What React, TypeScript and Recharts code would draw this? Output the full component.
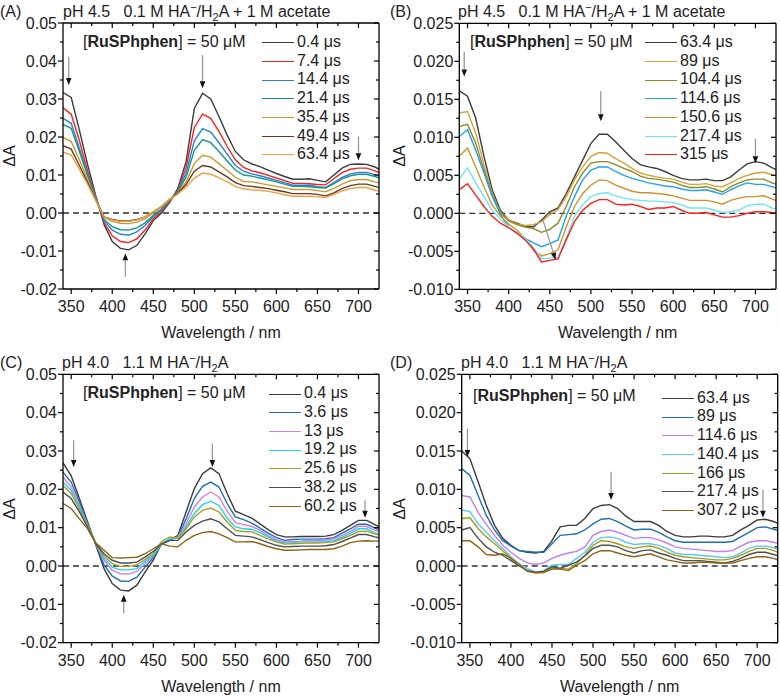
import React from "react";
import { LineChart, Line, XAxis, YAxis, ReferenceLine } from "recharts";

// wavelength grid (nm)
const wavelengths = [
  340, 350, 360, 370, 380, 390, 400, 410, 420, 430, 440, 450, 460, 470, 480, 490, 500, 510, 520, 530,
  540, 550, 560, 570, 580, 590, 600, 610, 620, 630, 640, 650, 660, 670, 680, 690, 700, 710, 720, 730,
];

const xTicks = [350, 375, 400, 425, 450, 475, 500, 525, 550, 575, 600, 625, 650, 675, 700];
const yTicksAC = [-0.02, -0.015, -0.01, -0.005, 0, 0.005, 0.01, 0.015, 0.02, 0.025, 0.03, 0.035, 0.04, 0.045, 0.05];
const yTicksBD = [-0.01, -0.0075, -0.005, -0.0025, 0, 0.0025, 0.005, 0.0075, 0.01, 0.0125, 0.015, 0.0175, 0.02, 0.0225, 0.025];

// (A) pH 4.5, 0.1 M HA-/H2A + 1 M acetate
const labelsA = ["0.4 μs", "7.4 μs", "14.4 μs", "21.4 μs", "35.4 μs", "49.4 μs", "63.4 μs"];
const a_0_4 = [0.0317, 0.0304, 0.0218, 0.0127, 0.0045, -0.003, -0.0075, -0.0093, -0.0097, -0.0085, -0.0055, -0.002, 0.0, 0.0028, 0.0065, 0.0135, 0.0275, 0.0315, 0.03, 0.0254, 0.0205, 0.0162, 0.014, 0.0129, 0.0122, 0.0113, 0.0104, 0.0096, 0.0089, 0.0089, 0.009, 0.0086, 0.0082, 0.01, 0.0118, 0.0128, 0.0129, 0.0128, 0.0121, 0.011];
const a_7_4 = [0.0277, 0.026, 0.019, 0.011, 0.0042, -0.0025, -0.006, -0.0075, -0.0078, -0.0068, -0.0045, -0.0015, 0.0004, 0.003, 0.006, 0.012, 0.0225, 0.026, 0.0249, 0.0215, 0.0175, 0.014, 0.012, 0.0111, 0.0106, 0.0099, 0.0092, 0.0085, 0.0078, 0.0078, 0.0077, 0.0075, 0.0074, 0.009, 0.0106, 0.0115, 0.0118, 0.0118, 0.0111, 0.0102];
const a_14_4 = [0.0249, 0.0236, 0.017, 0.0102, 0.004, -0.002, -0.0045, -0.0056, -0.0058, -0.005, -0.0033, -0.001, 0.0008, 0.0033, 0.0058, 0.0105, 0.019, 0.0222, 0.0213, 0.0185, 0.0155, 0.0125, 0.011, 0.0103, 0.0098, 0.0092, 0.0086, 0.008, 0.0073, 0.0073, 0.0073, 0.0069, 0.0067, 0.008, 0.0094, 0.0103, 0.0107, 0.0107, 0.0101, 0.0094];
const a_21_4 = [0.0233, 0.0223, 0.0162, 0.0098, 0.0038, -0.0017, -0.0036, -0.0044, -0.0045, -0.0039, -0.0026, -0.0006, 0.001, 0.0034, 0.0056, 0.0095, 0.0165, 0.0193, 0.0185, 0.0162, 0.0137, 0.0113, 0.01, 0.0097, 0.0092, 0.0087, 0.0082, 0.0076, 0.007, 0.007, 0.0069, 0.0067, 0.0066, 0.0077, 0.009, 0.0098, 0.0102, 0.0102, 0.0096, 0.0088];
const a_35_4 = [0.0199, 0.0188, 0.014, 0.0087, 0.0036, -0.0012, -0.0022, -0.0027, -0.0028, -0.0024, -0.0015, 0.0, 0.0015, 0.0035, 0.0053, 0.0082, 0.013, 0.0152, 0.0147, 0.013, 0.0112, 0.0094, 0.0083, 0.0082, 0.0078, 0.0074, 0.007, 0.0066, 0.0062, 0.0062, 0.0062, 0.0059, 0.0056, 0.0065, 0.0076, 0.0085, 0.0088, 0.0088, 0.0082, 0.0077];
const a_49_4 = [0.0177, 0.0168, 0.0125, 0.008, 0.0034, -0.001, -0.0017, -0.0021, -0.0021, -0.0017, -0.001, 0.0003, 0.0017, 0.0036, 0.0052, 0.0075, 0.011, 0.0125, 0.0121, 0.0108, 0.0095, 0.008, 0.0072, 0.007, 0.0067, 0.0064, 0.006, 0.0056, 0.0051, 0.0051, 0.0051, 0.0049, 0.0045, 0.0053, 0.0064, 0.0072, 0.0076, 0.0076, 0.007, 0.0065];
const a_63_4 = [0.016, 0.0153, 0.0115, 0.0075, 0.0033, -0.001, -0.0018, -0.0022, -0.0022, -0.0018, -0.001, 0.0003, 0.0017, 0.0036, 0.005, 0.0068, 0.0092, 0.0105, 0.0102, 0.0093, 0.0082, 0.007, 0.0063, 0.0061, 0.006, 0.0057, 0.0053, 0.0048, 0.0044, 0.0044, 0.0044, 0.0043, 0.0041, 0.0049, 0.0058, 0.0064, 0.0067, 0.0067, 0.006, 0.0055];

// (B) same buffer, later delays
const labelsB = ["63.4 μs", "89 μs", "104.4 μs", "114.6 μs", "150.6 μs", "217.4 μs", "315 μs"];
const b_63_4 = [0.0161, 0.0154, 0.0125, 0.0075, 0.0031, 0.0004, -0.0009, -0.0013, -0.0017, -0.0018, -0.0009, 0.0002, 0.0007, 0.0026, 0.0048, 0.007, 0.0092, 0.0104, 0.0104, 0.0094, 0.0083, 0.0072, 0.0064, 0.0061, 0.0059, 0.0055, 0.005, 0.0046, 0.0044, 0.0044, 0.0045, 0.0043, 0.0043, 0.0048, 0.0057, 0.0065, 0.0068, 0.0066, 0.006, 0.0055];
const b_89 = [0.0132, 0.0134, 0.0105, 0.0064, 0.0026, 0.0002, -0.0009, -0.0014, -0.0016, -0.0015, -0.0011, -0.0002, 0.0005, 0.0022, 0.0044, 0.0061, 0.0075, 0.008, 0.0079, 0.0072, 0.0066, 0.0059, 0.0053, 0.005, 0.0048, 0.0046, 0.0045, 0.0041, 0.0038, 0.0038, 0.0039, 0.0036, 0.0035, 0.004, 0.0046, 0.005, 0.0053, 0.0054, 0.0051, 0.0048];
const b_104_4 = [0.0114, 0.0117, 0.0092, 0.0057, 0.0024, 0.0001, -0.001, -0.0015, -0.0018, -0.002, -0.0025, -0.0021, -0.0013, 0.0009, 0.0035, 0.0053, 0.0066, 0.0068, 0.0068, 0.0064, 0.0059, 0.0055, 0.0049, 0.0046, 0.0045, 0.0043, 0.0041, 0.0037, 0.0034, 0.0034, 0.0035, 0.0032, 0.0028, 0.0035, 0.004, 0.0044, 0.0045, 0.0045, 0.004, 0.0037];
const b_114_6 = [0.0101, 0.011, 0.0083, 0.0053, 0.0022, -0.0001, -0.0018, -0.0026, -0.0033, -0.0039, -0.0044, -0.004, -0.0035, -0.0004, 0.0022, 0.0044, 0.0057, 0.0061, 0.0061, 0.0055, 0.005, 0.0046, 0.0043, 0.004, 0.0038, 0.0036, 0.0035, 0.0032, 0.003, 0.003, 0.0031, 0.0028, 0.0025, 0.0031, 0.0036, 0.004, 0.0038, 0.0038, 0.0035, 0.0032];
const b_150_6 = [0.0075, 0.0086, 0.0061, 0.0035, 0.0011, -0.0004, -0.0014, -0.0022, -0.0033, -0.0048, -0.0056, -0.0053, -0.0048, -0.0018, 0.0009, 0.0026, 0.0037, 0.0044, 0.0043, 0.0037, 0.0033, 0.0029, 0.0027, 0.0027, 0.0026, 0.0025, 0.0023, 0.002, 0.0017, 0.0017, 0.0017, 0.0015, 0.0012, 0.0017, 0.002, 0.0022, 0.0022, 0.0023, 0.0019, 0.0015];
const b_217_4 = [0.0045, 0.006, 0.004, 0.0022, 0.0004, -0.0008, -0.0018, -0.0025, -0.0033, -0.0045, -0.006, -0.0059, -0.0058, -0.0033, -0.0004, 0.0011, 0.0022, 0.0026, 0.0027, 0.0023, 0.002, 0.0018, 0.0017, 0.0016, 0.0016, 0.0015, 0.0014, 0.0011, 0.0007, 0.0007, 0.0007, 0.0004, 0.0001, 0.0002, 0.0004, 0.001, 0.0012, 0.0012, 0.0007, 0.0004];
const b_315 = [0.0031, 0.0039, 0.0024, 0.0009, -0.0004, -0.0013, -0.0019, -0.0026, -0.0035, -0.0047, -0.0064, -0.0062, -0.006, -0.0035, -0.0011, 0.0004, 0.0013, 0.0018, 0.0018, 0.0012, 0.0011, 0.0012, 0.0009, 0.0005, 0.0007, 0.0007, 0.0009, 0.0004, 0.0, 0.0, 0.0001, -0.0002, -0.0005, -0.0005, -0.0003, 0.0, 0.0002, 0.0002, 0.0001, -0.0001];

// (C) pH 4.0, 1.1 M HA-/H2A
const labelsC = ["0.4 μs", "3.6 μs", "13 μs", "19.2 μs", "25.6 μs", "38.2 μs", "60.2 μs"];
const c_0_4 = [0.0269, 0.0235, 0.0176, 0.0115, 0.0055, -0.0007, -0.0046, -0.0063, -0.0065, -0.005, -0.0016, 0.0015, 0.0058, 0.0067, 0.008, 0.0141, 0.0202, 0.0241, 0.0256, 0.0241, 0.0189, 0.0143, 0.0134, 0.0125, 0.011, 0.0095, 0.0082, 0.0076, 0.0076, 0.0077, 0.0077, 0.0077, 0.0078, 0.0082, 0.0093, 0.0106, 0.0119, 0.0119, 0.0108, 0.0097];
const c_3_6 = [0.0245, 0.0219, 0.0167, 0.011, 0.0057, 0.0003, -0.0026, -0.0039, -0.004, -0.0029, -0.0003, 0.0022, 0.0058, 0.0067, 0.0077, 0.0123, 0.0176, 0.0208, 0.0219, 0.0206, 0.0163, 0.0128, 0.0121, 0.0112, 0.0099, 0.0086, 0.0074, 0.0067, 0.0069, 0.007, 0.007, 0.007, 0.0071, 0.0074, 0.0086, 0.0097, 0.0109, 0.0109, 0.0099, 0.009];
const c_13 = [0.0232, 0.0206, 0.0158, 0.0107, 0.0058, 0.0015, -0.0011, -0.002, -0.0021, -0.0014, 0.0006, 0.0026, 0.0058, 0.0069, 0.0076, 0.011, 0.0154, 0.018, 0.0193, 0.018, 0.0143, 0.0113, 0.0108, 0.0103, 0.0093, 0.008, 0.0069, 0.0063, 0.0064, 0.0065, 0.0067, 0.0067, 0.0068, 0.0071, 0.008, 0.009, 0.0104, 0.0103, 0.0093, 0.0087];
const c_19_2 = [0.0219, 0.0197, 0.0154, 0.0106, 0.0058, 0.0021, -0.0003, -0.001, -0.001, -0.0007, 0.0012, 0.0028, 0.0058, 0.0071, 0.0074, 0.0102, 0.0137, 0.016, 0.0169, 0.0158, 0.0125, 0.0102, 0.0097, 0.0096, 0.0087, 0.0076, 0.0065, 0.006, 0.0061, 0.0063, 0.0063, 0.0063, 0.0064, 0.0066, 0.0075, 0.0085, 0.0097, 0.0097, 0.0086, 0.008];
const c_25_6 = [0.0209, 0.0189, 0.0148, 0.0104, 0.0058, 0.0026, 0.0006, -0.0001, -0.0001, 0.0003, 0.0017, 0.0032, 0.0064, 0.0076, 0.0073, 0.0097, 0.0128, 0.0145, 0.0151, 0.0141, 0.0115, 0.0093, 0.009, 0.0089, 0.008, 0.0071, 0.0063, 0.0057, 0.0058, 0.0059, 0.006, 0.006, 0.0061, 0.0063, 0.0071, 0.008, 0.009, 0.0091, 0.0084, 0.0078];
const c_38_2 = [0.0193, 0.0176, 0.0141, 0.0101, 0.0058, 0.0032, 0.0015, 0.0008, 0.0008, 0.001, 0.0023, 0.0038, 0.0058, 0.0067, 0.0067, 0.0089, 0.0106, 0.0117, 0.0123, 0.0115, 0.0097, 0.008, 0.0078, 0.0076, 0.0069, 0.0061, 0.0054, 0.005, 0.0051, 0.0052, 0.0052, 0.0052, 0.0053, 0.0056, 0.0064, 0.0073, 0.0082, 0.0082, 0.0076, 0.0071];
const c_60_2 = [0.0163, 0.015, 0.0123, 0.0097, 0.006, 0.0041, 0.0022, 0.0021, 0.0022, 0.0023, 0.0032, 0.0045, 0.0058, 0.0052, 0.005, 0.0067, 0.008, 0.0087, 0.009, 0.0084, 0.0074, 0.0063, 0.0063, 0.0064, 0.0058, 0.0051, 0.0045, 0.0041, 0.0041, 0.0042, 0.0043, 0.0043, 0.0043, 0.0045, 0.0052, 0.0061, 0.0065, 0.0066, 0.0065, 0.0065];

// (D) same buffer, later delays
const labelsD = ["63.4 μs", "89 μs", "114.6 μs", "140.4 μs", "166 μs", "217.4 μs", "307.2 μs"];
const d_63_4 = [0.015, 0.014, 0.011, 0.0079, 0.0053, 0.0036, 0.0027, 0.002, 0.0018, 0.0017, 0.0019, 0.0033, 0.0051, 0.0053, 0.0053, 0.0062, 0.0075, 0.0079, 0.008, 0.0075, 0.0065, 0.0058, 0.0058, 0.0058, 0.0053, 0.0045, 0.004, 0.0038, 0.0038, 0.0039, 0.0039, 0.0038, 0.0038, 0.004, 0.0047, 0.0053, 0.006, 0.0061, 0.0058, 0.0054];
const d_89 = [0.0127, 0.0118, 0.0092, 0.0066, 0.0047, 0.0033, 0.0026, 0.002, 0.0019, 0.0018, 0.0018, 0.0029, 0.004, 0.0041, 0.0042, 0.0047, 0.0055, 0.0061, 0.0062, 0.0058, 0.0052, 0.0047, 0.0048, 0.0048, 0.0044, 0.0038, 0.0033, 0.0031, 0.0031, 0.0031, 0.0031, 0.0031, 0.0031, 0.0032, 0.0038, 0.0044, 0.005, 0.0051, 0.0048, 0.0045];
const d_114_6 = [0.0092, 0.009, 0.007, 0.0054, 0.004, 0.0027, 0.0018, 0.001, 0.0004, 0.0002, 0.0004, 0.001, 0.0014, 0.0017, 0.0019, 0.0025, 0.004, 0.0045, 0.0047, 0.0044, 0.004, 0.0036, 0.0037, 0.0037, 0.0034, 0.003, 0.0025, 0.0023, 0.0022, 0.0021, 0.002, 0.0019, 0.0019, 0.002, 0.0026, 0.0031, 0.0033, 0.0033, 0.0031, 0.0028];
const d_140_4 = [0.0073, 0.0071, 0.0055, 0.0044, 0.0033, 0.0023, 0.0012, 0.0003, -0.0003, -0.0008, -0.0006, 0.0001, 0.0002, 0.0002, 0.001, 0.0018, 0.0031, 0.0037, 0.0038, 0.0036, 0.0031, 0.0028, 0.0029, 0.0029, 0.0027, 0.0023, 0.0017, 0.0015, 0.0015, 0.0014, 0.0013, 0.0012, 0.0011, 0.0012, 0.0017, 0.0023, 0.0026, 0.0026, 0.0024, 0.002];
const d_166 = [0.0062, 0.0063, 0.0049, 0.0038, 0.0029, 0.002, 0.001, 0.0001, -0.0006, -0.0009, -0.0009, -0.0003, -0.0003, -0.0004, 0.0003, 0.0014, 0.0027, 0.0033, 0.0032, 0.0029, 0.0025, 0.0023, 0.0025, 0.0026, 0.0023, 0.0018, 0.0014, 0.0012, 0.0011, 0.001, 0.0009, 0.0008, 0.0008, 0.001, 0.0014, 0.0019, 0.0023, 0.0023, 0.002, 0.0016];
const d_217_4 = [0.0047, 0.005, 0.0036, 0.0025, 0.0018, 0.0014, 0.0007, 0.0, -0.0006, -0.0008, -0.0007, -0.0001, -0.0003, 0.0001, 0.0005, 0.0013, 0.0023, 0.0027, 0.0027, 0.0025, 0.002, 0.0017, 0.002, 0.0021, 0.0017, 0.0014, 0.001, 0.0007, 0.0007, 0.0007, 0.0006, 0.0005, 0.0004, 0.0006, 0.001, 0.0015, 0.0018, 0.0018, 0.0015, 0.0012];
const d_307_2 = [0.0033, 0.0033, 0.0025, 0.0015, 0.0014, 0.0016, 0.001, 0.0002, -0.0007, -0.0009, -0.0008, -0.0004, -0.0004, -0.0006, 0.0001, 0.0007, 0.0016, 0.002, 0.002, 0.0017, 0.0014, 0.0012, 0.0014, 0.0016, 0.0012, 0.0008, 0.0006, 0.0004, 0.0004, 0.0005, 0.0005, 0.0004, 0.0004, 0.0004, 0.0007, 0.001, 0.0012, 0.0012, 0.001, 0.0006];

const FONT = '"Liberation Sans", Arial, sans-serif';
const TXT = "#222";

type Arrow = { x1: number; y1: number; x2: number; y2: number };
type Series = { name: string; color: string; values: number[] };

interface PanelProps {
  tag: string;
  title: React.ReactNode;
  ox: number;
  oy: number;
  w: number;
  h: number;
  plot: { l: number; t: number; r: number; b: number };
  yTicks: number[];
  yStep: number;
  yDigits: number;
  series: Series[];
  arrows: Arrow[];
  ru: { x: number; y: number };
  legend: { x: number; y: number };
  tagY: number;
  titleX: number;
}

const isMajor = (v: number, step: number) => Math.round(v / step) % 2 === 0;

const arrowShape = (p: any) => {
  const { x1, y1, x2, y2 } = p;
  const ang = Math.atan2(y2 - y1, x2 - x1);
  const len = 7;
  const half = 2.8;
  const bx = x2 - len * Math.cos(ang);
  const by = y2 - len * Math.sin(ang);
  const px = -Math.sin(ang) * half;
  const py = Math.cos(ang) * half;
  return (
    <g>
      <line x1={x1} y1={y1} x2={bx} y2={by} stroke="#9a9a9a" strokeWidth={1.3} />
      <polygon points={`${x2},${y2} ${bx + px},${by + py} ${bx - px},${by - py}`} fill="#111" />
    </g>
  );
};

const HAminus = (
  <>
    HA<span style={{ fontSize: 11, position: "relative", top: -6 }}>−</span>/H
    <span style={{ fontSize: 11, position: "relative", top: 4 }}>2</span>A
  </>
);

const Panel = (props: PanelProps) => {
  const { ox, oy, w, h, plot, yTicks, yStep, yDigits, series } = props;
  const rows = wavelengths.map((wl, i) => {
    const row: Record<string, number> = { wl };
    series.forEach((s, k) => {
      row[`s${k}`] = s.values[i];
    });
    return row;
  });

  const bottomTick = (p: any) => {
    const { x, y, payload } = p;
    const major = payload.value % 50 === 0;
    return (
      <g>
        <line x1={x} y1={y} x2={x} y2={y + (major ? 5 : 3)} stroke="#000" strokeWidth={1.2} />
        {major && (
          <text x={x} y={y + 23} textAnchor="middle" fontSize={16} fontFamily={FONT} fill={TXT}>
            {payload.value}
          </text>
        )}
      </g>
    );
  };
  const topTick = (p: any) => {
    const { x, y, payload } = p;
    const major = payload.value % 50 === 0;
    return <line x1={x} y1={y} x2={x} y2={y + (major ? 5 : 3)} stroke="#000" strokeWidth={1.2} />;
  };
  const leftTick = (p: any) => {
    const { x, y, payload } = p;
    const major = isMajor(payload.value, yStep);
    return (
      <g>
        <line x1={x} y1={y} x2={x - (major ? 5 : 3)} y2={y} stroke="#000" strokeWidth={1.2} />
        {major && (
          <text x={x - 6} y={y + 5.6} textAnchor="end" fontSize={16} fontFamily={FONT} fill={TXT}>
            {payload.value.toFixed(yDigits)}
          </text>
        )}
      </g>
    );
  };
  const rightTick = (p: any) => {
    const { x, y, payload } = p;
    const major = isMajor(payload.value, yStep);
    return <line x1={x} y1={y} x2={x - (major ? 5 : 3)} y2={y} stroke="#000" strokeWidth={1.2} />;
  };

  const yDomain = [yTicks[0], yTicks[yTicks.length - 1]];
  const axisLine = { stroke: "#000", strokeWidth: 1.3 };

  return (
    <div style={{ position: "absolute", left: ox, top: oy, width: w, height: h, fontFamily: FONT, color: TXT }}>
      <LineChart
        width={w}
        height={h}
        data={rows}
        margin={{ top: plot.t - 1, right: w - plot.r - 1, bottom: h - plot.b - 40, left: 0 }}
      >
        <XAxis
          xAxisId="b"
          dataKey="wl"
          type="number"
          domain={[340, 725]}
          allowDataOverflow
          ticks={xTicks}
          interval={0}
          height={40}
          tickSize={0}
          tickMargin={0}
          tickLine={false}
          axisLine={axisLine}
          tick={bottomTick}
        />
        <XAxis
          xAxisId="t"
          orientation="top"
          dataKey="wl"
          type="number"
          domain={[340, 725]}
          allowDataOverflow
          ticks={xTicks}
          interval={0}
          height={1}
          tickSize={0}
          tickMargin={0}
          tickLine={false}
          axisLine={axisLine}
          tick={topTick}
        />
        <YAxis
          yAxisId="l"
          type="number"
          domain={yDomain}
          allowDataOverflow
          ticks={yTicks}
          interval={0}
          width={plot.l}
          tickSize={0}
          tickMargin={0}
          tickLine={false}
          axisLine={axisLine}
          tick={leftTick}
        />
        <YAxis
          yAxisId="r"
          orientation="right"
          type="number"
          domain={yDomain}
          allowDataOverflow
          ticks={yTicks}
          interval={0}
          width={1}
          tickSize={0}
          tickMargin={0}
          tickLine={false}
          axisLine={axisLine}
          tick={rightTick}
        />
        <ReferenceLine xAxisId="b" yAxisId="l" y={0} stroke="#333" strokeWidth={1.3} strokeDasharray="6 4" />
        {series.map((s, k) => (
          <Line
            key={s.name}
            xAxisId="b"
            yAxisId="l"
            type="linear"
            dataKey={`s${k}`}
            stroke={s.color}
            strokeWidth={1.4}
            dot={false}
            activeDot={false}
            isAnimationActive={false}
          />
        ))}
        {props.arrows.map((a, i) => (
          <ReferenceLine
            key={`arrow-${i}`}
            xAxisId="b"
            yAxisId="l"
            ifOverflow="visible"
            segment={[
              { x: a.x1, y: a.y1 },
              { x: a.x2, y: a.y2 },
            ]}
            shape={arrowShape}
          />
        ))}
      </LineChart>

      <div style={{ position: "absolute", left: 0, top: props.tagY - 10, fontSize: 16, lineHeight: "20px" }}>{props.tag}</div>
      <div style={{ position: "absolute", left: props.titleX, top: props.tagY - 10, fontSize: 16, lineHeight: "20px", whiteSpace: "pre" }}>
        {props.title}
      </div>
      <div
        style={{
          position: "absolute",
          left: 10 - 20,
          top: (plot.t + plot.b) / 2 - 10,
          width: 40,
          height: 20,
          textAlign: "center",
          fontSize: 16,
          lineHeight: "20px",
          transform: "rotate(-90deg)",
        }}
      >
        ΔA
      </div>
      <div
        style={{
          position: "absolute",
          left: (plot.l + plot.r) / 2 - 80,
          top: plot.b + 34,
          width: 160,
          textAlign: "center",
          fontSize: 16,
          lineHeight: "20px",
        }}
      >
        Wavelength / nm
      </div>
      <div style={{ position: "absolute", left: props.ru.x, top: props.ru.y - 10, fontSize: 16, lineHeight: "20px", whiteSpace: "pre" }}>
        [<b>RuSPhphen</b>] = 50 μM
      </div>
      {series.map((s, k) => (
        <div key={s.name} style={{ position: "absolute", left: props.legend.x, top: props.legend.y + k * 18.7 - 10, height: 20, fontSize: 16, lineHeight: "20px", whiteSpace: "pre" }}>
          <span style={{ display: "inline-block", width: 32, height: 0, borderTop: `1.6px solid ${s.color}`, verticalAlign: "middle", marginRight: 3 }} />
          {s.name}
        </div>
      ))}
    </div>
  );
};

const colorsA = ["#3c3c3c", "#ff1e1e", "#2a7fd4", "#129888", "#c99a2e", "#6b3a1e", "#f0a044"];
const colorsB = ["#3c3c3c", "#d6a23e", "#8c8a26", "#1ea2f2", "#d0922e", "#6ee6f0", "#ff1e1e"];
const colorsC = ["#3c3c3c", "#1f6fb6", "#d27ef0", "#1ed2f0", "#a8a020", "#505050", "#8c6414"];
const colorsD = ["#3c3c3c", "#1f6fb6", "#c07ef0", "#5ec8f0", "#a0a020", "#505050", "#8c6414"];

const build = (labels: string[], colors: string[], values: number[][]): Series[] =>
  labels.map((name, i) => ({ name, color: colors[i], values: values[i] }));

const seriesA = build(labelsA, colorsA, [a_0_4, a_7_4, a_14_4, a_21_4, a_35_4, a_49_4, a_63_4]);
const seriesB = build(labelsB, colorsB, [b_63_4, b_89, b_104_4, b_114_6, b_150_6, b_217_4, b_315]);
const seriesC = build(labelsC, colorsC, [c_0_4, c_3_6, c_13, c_19_2, c_25_6, c_38_2, c_60_2]);
const seriesD = build(labelsD, colorsD, [d_63_4, d_89, d_114_6, d_140_4, d_166, d_217_4, d_307_2]);

const arrowsA: Arrow[] = [
  { x1: 347, y1: 0.0411, x2: 347, y2: 0.0337 },
  { x1: 510, y1: 0.0416, x2: 510, y2: 0.0328 },
  { x1: 700, y1: 0.0201, x2: 700, y2: 0.0139 },
  { x1: 416, y1: -0.0168, x2: 416, y2: -0.0106 },
];
const arrowsB: Arrow[] = [
  { x1: 346, y1: 0.0213, x2: 346, y2: 0.018 },
  { x1: 512, y1: 0.0161, x2: 512, y2: 0.0121 },
  { x1: 700, y1: 0.0098, x2: 700, y2: 0.0066 },
  { x1: 442, y1: -0.001, x2: 457, y2: -0.0061 },
];
const arrowsC: Arrow[] = [
  { x1: 353, y1: 0.0328, x2: 353, y2: 0.0258 },
  { x1: 522, y1: 0.0319, x2: 522, y2: 0.0258 },
  { x1: 708, y1: 0.0171, x2: 708, y2: 0.0126 },
  { x1: 414, y1: -0.0123, x2: 414, y2: -0.0075 },
];
const arrowsD: Arrow[] = [
  { x1: 347, y1: 0.0179, x2: 347, y2: 0.0142 },
  { x1: 522, y1: 0.0123, x2: 522, y2: 0.0086 },
  { x1: 707, y1: 0.0099, x2: 707, y2: 0.0063 },
];

export default function App() {
  return (
    <div style={{ position: "absolute", left: 0, top: 0, width: 780, height: 697, background: "#fff", overflow: "hidden" }}>
      <Panel
        tag="(A)"
        title={<>pH 4.5   0.1 M {HAminus} + 1 M acetate</>}
        ox={0}
        oy={0}
        w={390}
        h={345}
        plot={{ l: 63, t: 23, r: 379, b: 289 }}
        yTicks={yTicksAC}
        yStep={0.005}
        yDigits={2}
        series={seriesA}
        arrows={arrowsA}
        ru={{ x: 83, y: 42 }}
        legend={{ x: 262, y: 42 }}
        tagY={12}
        titleX={63}
      />
      <Panel
        tag="(B)"
        title={<>pH 4.5   0.1 M {HAminus} + 1 M acetate</>}
        ox={390}
        oy={0}
        w={390}
        h={345}
        plot={{ l: 69.3, t: 23.3, r: 386, b: 289.3 }}
        yTicks={yTicksBD}
        yStep={0.0025}
        yDigits={3}
        series={seriesB}
        arrows={arrowsB}
        ru={{ x: 80, y: 42 }}
        legend={{ x: 255, y: 42 }}
        tagY={12}
        titleX={68}
      />
      <Panel
        tag="(C)"
        title={<>pH 4.0   1.1 M {HAminus}</>}
        ox={0}
        oy={345}
        w={390}
        h={352}
        plot={{ l: 63, t: 29.3, r: 379, b: 297.7 }}
        yTicks={yTicksAC}
        yStep={0.005}
        yDigits={2}
        series={seriesC}
        arrows={arrowsC}
        ru={{ x: 83, y: 48 }}
        legend={{ x: 269, y: 48.3 }}
        tagY={18}
        titleX={62}
      />
      <Panel
        tag="(D)"
        title={<>pH 4.0   1.1 M {HAminus}</>}
        ox={390}
        oy={345}
        w={390}
        h={352}
        plot={{ l: 71.7, t: 29.3, r: 387.7, b: 297.7 }}
        yTicks={yTicksBD}
        yStep={0.0025}
        yDigits={3}
        series={seriesD}
        arrows={arrowsD}
        ru={{ x: 83, y: 50.7 }}
        legend={{ x: 272, y: 52.7 }}
        tagY={18}
        titleX={71}
      />
    </div>
  );
}
